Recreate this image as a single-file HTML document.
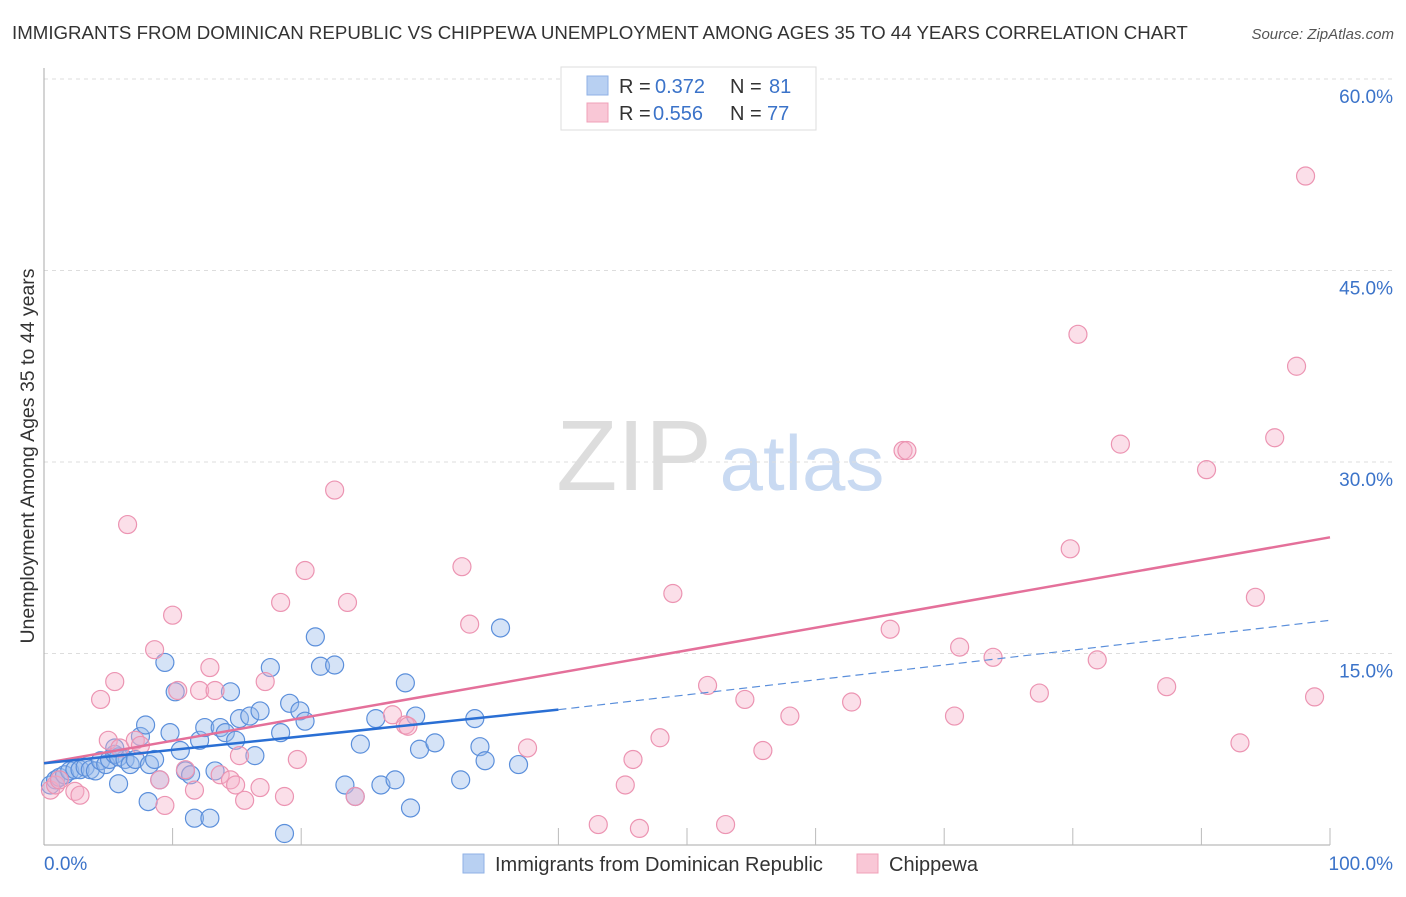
<!DOCTYPE html>
<html><head><meta charset="utf-8"><style>
body{margin:0;background:#fff;font-family:"Liberation Sans",sans-serif;}
svg text{font-family:"Liberation Sans",sans-serif;}
</style></head><body>
<svg id="chart" width="1406" height="892" xmlns="http://www.w3.org/2000/svg">
<text x="12" y="39" font-size="18.7" fill="#333">IMMIGRANTS FROM DOMINICAN REPUBLIC VS CHIPPEWA UNEMPLOYMENT AMONG AGES 35 TO 44 YEARS CORRELATION CHART</text>
<text x="1394" y="39" font-size="15" fill="#555" text-anchor="end" font-style="italic">Source: ZipAtlas.com</text>
<text transform="translate(34,456) rotate(-90)" font-size="19.5" fill="#333" text-anchor="middle">Unemployment Among Ages 35 to 44 years</text>
<g>
<text x="634" y="490" font-size="100" fill="#ddd" text-anchor="middle" font-family="Liberation Serif">ZIP</text>
<text x="802" y="490" font-size="78" fill="#c9daf2" text-anchor="middle">atlas</text>
</g>
<g id="grid"></g>
<g id="axes"></g>
<g id="points"></g>
<g id="lines"></g>
<g>
<rect x="561" y="67" width="255" height="63" fill="#fff" stroke="#ddd"/>
<rect x="587" y="76" width="21" height="19" fill="#b8d0f2" stroke="#8fb1e6"/>
<rect x="587" y="103" width="21" height="19" fill="#f9c7d6" stroke="#f0a0b8"/>
<text x="619" y="93" font-size="20" fill="#333">R =</text>
<text x="655" y="93" font-size="20" fill="#3b73c9">0.372</text>
<text x="730" y="93" font-size="20" fill="#333">N =</text>
<text x="769" y="93" font-size="20" fill="#3b73c9">81</text>
<text x="619" y="120" font-size="20" fill="#333">R =</text>
<text x="653" y="120" font-size="20" fill="#3b73c9">0.556</text>
<text x="730" y="120" font-size="20" fill="#333">N =</text>
<text x="767" y="120" font-size="20" fill="#3b73c9">77</text>
</g>
<g>
<rect x="463" y="854" width="21" height="19" fill="#b8d0f2" stroke="#8fb1e6"/>
<text x="495" y="871" font-size="20" fill="#333">Immigrants from Dominican Republic</text>
<rect x="857" y="854" width="21" height="19" fill="#f9c7d6" stroke="#f0a0b8"/>
<text x="889" y="871" font-size="20" fill="#333">Chippewa</text>
</g>
</svg>
<script>
const yTicks=[15,30,45,60];
const xTickLabels=["0.0%","100.0%"];
const blueX=[0.5,0.9,1.2,1.6,2,2.4,2.8,3.2,3.6,4,4.4,4.8,5.1,5.5,5.8,6.3,6.7,7.1,7.5,7.9,8.2,8.6,9,9.4,9.8,10.2,10.6,11,11.4,11.7,12.1,12.5,12.9,13.3,13.7,14.1,14.5,14.9,15.2,16,16.4,16.8,17.6,18.4,19.1,19.9,20.3,21.1,21.5,22.6,23.4,24.2,24.6,25.8,26.2,27.3,28.1,28.5,28.9,29.2,30.4,32.4,33.5,33.9,34.3,35.5,36.9,5.8,8.1,18.7,5.5];
const blueY=[4.7,5.1,5.3,5.5,5.8,5.9,5.9,6.1,5.9,5.8,6.6,6.3,6.7,7.1,6.9,6.7,6.3,6.7,8.5,9.4,6.3,6.7,5.1,14.3,8.8,12,7.4,5.8,5.5,2.1,8.2,9.2,2.1,5.8,9.2,8.8,12,8.2,9.9,10.1,7,10.5,13.9,8.8,11.1,10.5,9.7,16.3,14,14.1,4.7,3.8,7.9,9.9,4.7,5.1,12.7,2.9,10.1,7.5,8,5.1,9.9,7.7,6.6,17,6.3,4.8,3.4,0.9,7.6];
const pinkX=[0.5,0.9,1.2,2.4,2.8,4.4,5.0,5.5,5.9,6.5,7.1,7.5,8.6,9.0,9.4,10.0,10.4,11.0,11.7,12.1,12.9,13.3,13.7,14.5,14.9,15.2,15.6,16.8,17.2,18.4,18.7,19.7,20.3,22.6,23.6,24.2,27.1,28.1,28.3,32.5,33.1,37.6,43.1,45.8,46.3,45.2,47.9,48.9,51.6,53.0,54.5,55.9,58.0,62.8,65.8,66.8,67.1,70.8,71.2,73.8,77.4,79.8,80.4,81.9,83.7,87.3,90.4,93.0,94.2,95.7,97.4,98.1,98.8];
const pinkY=[4.3,4.7,5.1,4.2,3.9,11.4,8.2,12.8,7.6,25.1,8.2,7.8,15.3,5.1,3.1,18.0,12.1,5.9,4.3,12.1,13.9,12.1,5.5,5.1,4.7,7.0,3.5,4.5,12.8,19.0,3.8,6.7,21.5,27.8,19.0,3.8,10.2,9.4,9.3,21.8,17.3,7.6,1.6,6.7,1.3,4.7,8.4,19.7,12.5,1.6,11.4,7.4,10.1,11.2,16.9,30.9,30.9,10.1,15.5,14.7,11.9,23.2,40.0,14.5,31.4,12.4,29.4,8.0,19.4,31.9,37.5,52.4,11.6];
const blueFit=[[0,6.4],[40,10.6]];
const blueDash=[[40,10.6],[100,17.6]];
const pinkFit=[[0,6.4],[100,24.1]];
const NS="http://www.w3.org/2000/svg";
const X0=44,X1=1330,Y0=845,PY=191.5/15;
function sx(v){return X0+(X1-X0)*v/100;}
function sy(v){return Y0-v*PY;}
function mk(t,a,p){const e=document.createElementNS(NS,t);for(const k in a)e.setAttribute(k,a[k]);p.appendChild(e);return e;}
const grid=document.getElementById('grid'),axes=document.getElementById('axes'),pts=document.getElementById('points'),lines=document.getElementById('lines');
yTicks.forEach(t=>{
const l=mk('line',{x1:X0,x2:1394,y1:sy(t),y2:sy(t),stroke:'#ddd','stroke-dasharray':'4,4'},grid);


const tx=mk('text',{x:1393,y:sy(t)+24,'font-size':19,fill:'#3b73c9','text-anchor':'end'},axes);
tx.textContent=t.toFixed(1)+'%';


});
const ax=mk('line',{x1:X0,x2:X0,y1:68,y2:Y0,stroke:'#aaa'},axes);


const bx=mk('line',{x1:X0,x2:X1,y1:Y0,y2:Y0,stroke:'#aaa'},axes);


for(let i=1;i<=10;i++){if(i==3)continue;const tk=mk('line',{x1:sx(i*10),x2:sx(i*10),y1:Y0,y2:Y0-17,stroke:'#bbb'},axes);

}
const xl0=mk('text',{x:44,y:870,'font-size':19,fill:'#3b73c9'},axes);xl0.textContent=xTickLabels[0];


const xl1=mk('text',{x:1393,y:870,'font-size':19,fill:'#3b73c9','text-anchor':'end'},axes);xl1.textContent=xTickLabels[1];


blueX.forEach((x,i)=>{const c=mk('circle',{cx:sx(x),cy:sy(blueY[i]),r:9,fill:'rgba(150,185,235,0.4)',stroke:'#5b8fdb','stroke-width':1.2},pts);

});
pinkX.forEach((x,i)=>{const c=mk('circle',{cx:sx(x),cy:sy(pinkY[i]),r:9,fill:'rgba(245,175,200,0.4)',stroke:'#ec94b2','stroke-width':1.2},pts);

});
function ln(d,col,w,dash,name){const l=mk('line',{x1:sx(d[0][0]),y1:sy(d[0][1]),x2:sx(d[1][0]),y2:sy(d[1][1]),stroke:col,'stroke-width':w},lines);if(dash)l.setAttribute('stroke-dasharray',dash);

}
ln(pinkFit,'#e4709a',2.5,null,'trend-line-chippewa');
ln(blueFit,'#2a6fd4',2.5,null,'trend-line-dominican');
ln(blueDash,'#5b8fdb',1.2,'8,5','trend-line-dominican-extrapolated');
</script>
</body></html>
